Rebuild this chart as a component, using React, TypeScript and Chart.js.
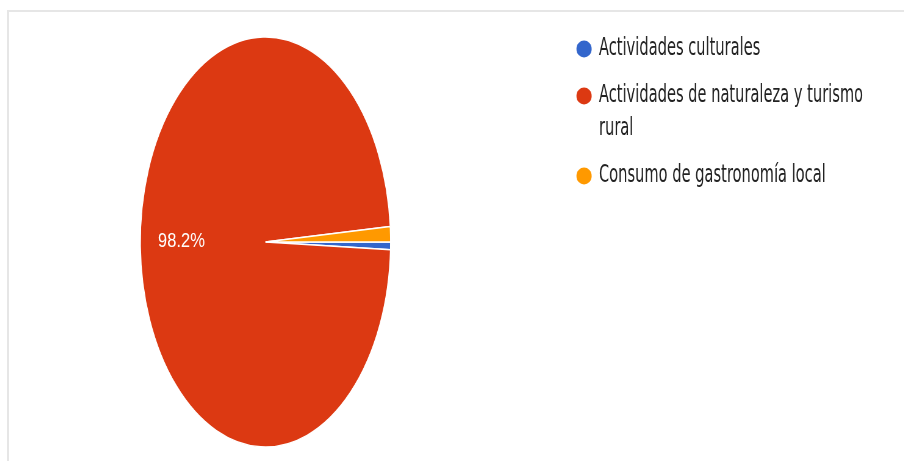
import React, { useEffect, useRef } from 'react';
import { Chart, registerables } from 'chart.js';

Chart.register(...registerables);

// ---- data ----
const categories: string[][] = [
  ['Actividades culturales'],
  ['Actividades de naturaleza y turismo', 'rural'],
  ['Consumo de gastronomía local'],
];
const responses: number[] = [1, 162, 2];
const sliceColors: string[] = ['#3366cc', '#dc3912', '#ff9900'];

// ---- geometry of the (horizontally squeezed) picture ----
const SQUEEZE = 0.61;
const CANVAS_W = 1544;
const CANVAS_H = 461;
const SHIFT_X = -37.4;

const percentLabels = {
  id: 'percentLabels',
  afterDatasetsDraw(chart: any) {
    const { ctx } = chart;
    const meta = chart.getDatasetMeta(0);
    const values = chart.data.datasets[0].data as number[];
    const total = values.reduce((a, b) => a + b, 0);
    meta.data.forEach((arc: any, i: number) => {
      const pct = (values[i] / total) * 100;
      if (pct < 5) return;
      const { x, y, startAngle, endAngle, outerRadius } = arc.getProps(
        ['x', 'y', 'startAngle', 'endAngle', 'outerRadius'],
        true
      );
      const mid = (startAngle + endAngle) / 2;
      const r = outerRadius * 0.672;
      const px = x + Math.cos(mid) * r;
      const py = y + Math.sin(mid) * r - 3;
      ctx.save();
      ctx.translate(px, py);
      ctx.scale(1.393, 1);
      ctx.font = '19.5px "Liberation Sans", Arial, sans-serif';
      ctx.fillStyle = '#ffffff';
      ctx.textAlign = 'center';
      ctx.textBaseline = 'middle';
      ctx.fillText(pct.toFixed(1) + '%', 0, 0);
      ctx.restore();
    });
  },
};

export default function App() {
  const ref = useRef<HTMLCanvasElement>(null);
  useEffect(() => {
    document.body.style.margin = '0';
    const baseGen = (Chart as any).overrides.doughnut.plugins.legend.labels.generateLabels;
    const chart = new Chart(ref.current!, {
      type: 'pie',
      data: {
        labels: categories as any,
        datasets: [
          {
            data: responses,
            backgroundColor: sliceColors,
            borderColor: '#ffffff',
            borderWidth: 1.5,
          },
        ],
      },
      options: {
        responsive: false,
        animation: false,
        events: [],
        rotation: 90,
        radius: 205,
        layout: { padding: { left: 0, right: 62.4, top: 23, bottom: 0 } },
        plugins: {
          tooltip: { enabled: false },
          legend: {
            position: 'right',
            align: 'start',
            maxWidth: 490,
            labels: {
              usePointStyle: true,
              pointStyle: 'circle',
              pointStyleWidth: 25,
              boxHeight: 12,
              padding: 14,
              color: '#222222',
              font: { family: '"DejaVu Sans", sans-serif', size: 24, lineHeight: 1.375 },
              generateLabels: (c: any) =>
                baseGen(c).map((it: any) => ({ ...it, lineWidth: 0, strokeStyle: 'rgba(0,0,0,0)' })),
            },
          },
        },
      } as any,
      plugins: [percentLabels],
    });
    return () => chart.destroy();
  }, []);

  return (
    <div
      style={{
        position: 'fixed',
        left: 0,
        top: 0,
        width: 904,
        height: 461,
        overflow: 'hidden',
        background: '#ffffff',
      }}
    >
      <div
        style={{
          position: 'absolute',
          left: 7,
          top: 10,
          width: 1000,
          height: 600,
          borderTop: '2px solid #e6e6e6',
          borderLeft: '2px solid #e6e6e6',
          boxSizing: 'border-box',
        }}
      />
      <canvas
        ref={ref}
        width={CANVAS_W}
        height={CANVAS_H}
        style={{
          position: 'absolute',
          left: SHIFT_X,
          top: 0,
          width: CANVAS_W,
          height: CANVAS_H,
          transform: `scaleX(${SQUEEZE})`,
          transformOrigin: '0 0',
        }}
      />
    </div>
  );
}
